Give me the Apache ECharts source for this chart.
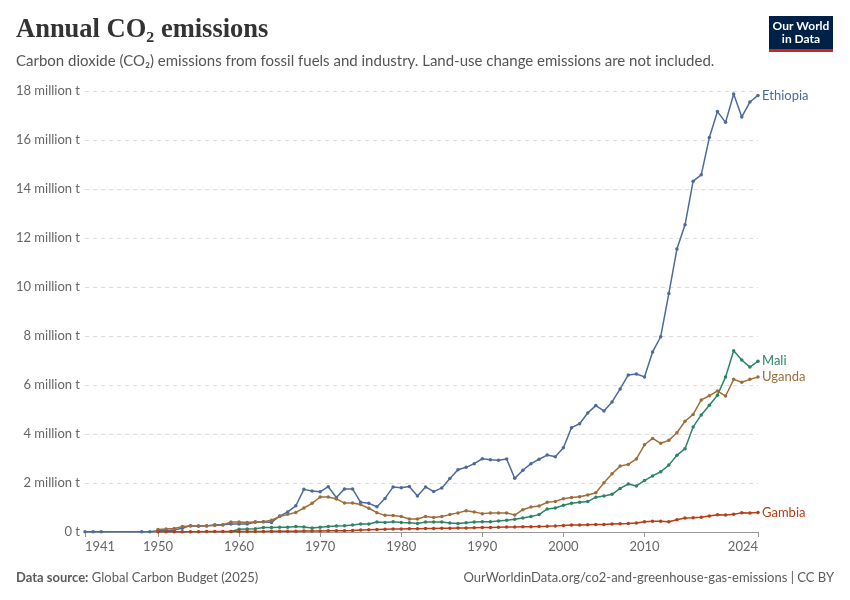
<!DOCTYPE html>
<html>
<head>
<meta charset="utf-8">
<style>
  html, body { margin: 0; padding: 0; background: #fff; }
  #chart { width: 850px; height: 600px; }
</style>
<script src="https://cdn.jsdelivr.net/npm/echarts@6/dist/echarts.min.js"></script>
</head>
<body>
<div id="chart"></div>
<script>
// Values in million tonnes, one per year starting at firstYear
var firstYear = 1950;
var lastYear = 2024;
var xTickYears = [1941, 1950, 1960, 1970, 1980, 1990, 2000, 2010, 2024];
var yTicks = [0, 2, 4, 6, 8, 10, 12, 14, 16, 18];

// Ethiopia also has a few early years before 1950
var ethiopiaEarlyYears = [1941, 1942, 1943, 1948, 1949];
var ethiopiaEarly = [0.01, 0.01, 0.01, 0.01, 0.01];

var ethiopia = [
  0.05, 0.05, 0.08, 0.15, 0.26, 0.23, 0.25, 0.30, 0.30, 0.33,
  0.33, 0.33, 0.40, 0.42, 0.39, 0.65, 0.82, 1.07, 1.74, 1.67,
  1.64, 1.85, 1.41, 1.76, 1.76, 1.21, 1.17, 1.03, 1.37, 1.84,
  1.81, 1.86, 1.47, 1.84, 1.65, 1.80, 2.18, 2.54, 2.64, 2.79,
  2.99, 2.95, 2.93, 2.98, 2.19, 2.52, 2.79, 2.97, 3.14, 3.07,
  3.44, 4.26, 4.42, 4.86, 5.16, 4.94, 5.31, 5.84, 6.41, 6.45,
  6.33, 7.35, 7.97, 9.73, 11.55, 12.54, 14.32, 14.58, 16.10, 17.16,
  16.72, 17.88, 16.94, 17.55, 17.82
];
var uganda = [
  0.10, 0.12, 0.14, 0.22, 0.24, 0.26, 0.26, 0.27, 0.29, 0.41,
  0.41, 0.39, 0.42, 0.42, 0.48, 0.63, 0.72, 0.80, 0.98, 1.17,
  1.43, 1.43, 1.35, 1.18, 1.18, 1.12, 0.97, 0.79, 0.68, 0.67,
  0.63, 0.53, 0.53, 0.63, 0.59, 0.63, 0.71, 0.78, 0.87, 0.82,
  0.75, 0.78, 0.78, 0.78, 0.69, 0.91, 1.02, 1.06, 1.21, 1.25,
  1.36, 1.41, 1.44, 1.51, 1.60, 2.01, 2.38, 2.69, 2.76, 2.98,
  3.56, 3.82, 3.62, 3.74, 4.05, 4.52, 4.80, 5.39, 5.56, 5.76,
  5.55, 6.23, 6.11, 6.23, 6.33
];
var mali = [
  null, null, null, null, null, null, null, null, null, 0.02,
  0.11, 0.12, 0.13, 0.18, 0.18, 0.19, 0.19, 0.22, 0.20, 0.16,
  0.19, 0.22, 0.24, 0.26, 0.29, 0.33, 0.33, 0.41, 0.39, 0.42,
  0.39, 0.38, 0.35, 0.41, 0.41, 0.41, 0.37, 0.35, 0.38, 0.41,
  0.42, 0.42, 0.45, 0.48, 0.52, 0.57, 0.63, 0.71, 0.94, 0.98,
  1.09, 1.17, 1.21, 1.24, 1.42, 1.47, 1.54, 1.78, 1.96, 1.88,
  2.10, 2.29, 2.46, 2.73, 3.13, 3.40, 4.29, 4.78, 5.17, 5.58,
  6.33, 7.40, 7.02, 6.73, 6.97
];
var gambia = [
  0.01, 0.01, 0.01, 0.01, 0.01, 0.01, 0.02, 0.02, 0.02, 0.02,
  0.02, 0.02, 0.02, 0.02, 0.03, 0.03, 0.03, 0.03, 0.04, 0.04,
  0.04, 0.05, 0.05, 0.05, 0.06, 0.08, 0.09, 0.10, 0.11, 0.12,
  0.12, 0.13, 0.13, 0.14, 0.14, 0.15, 0.15, 0.16, 0.16, 0.17,
  0.18, 0.18, 0.19, 0.20, 0.20, 0.21, 0.21, 0.22, 0.23, 0.25,
  0.27, 0.29, 0.29, 0.30, 0.31, 0.31, 0.33, 0.34, 0.35, 0.37,
  0.42, 0.44, 0.44, 0.42, 0.50, 0.57, 0.58, 0.60, 0.65, 0.70,
  0.69, 0.72, 0.79, 0.78, 0.80
];

var font = 'Lato, "Noto Sans", sans-serif';
var muted = '#666';

function pairs(values, early, earlyYears) {
  var out = [];
  if (early) {
    early.forEach(function(v, i) { out.push([earlyYears[i], v]); });
  }
  values.forEach(function(v, i) {
    if (v !== null) out.push([firstYear + i, v]);
  });
  return out;
}

function lineSeries(name, data, color) {
  return {
    name: name, type: 'line', data: data,
    symbol: 'circle', symbolSize: 3.5, showSymbol: true,
    lineStyle: { width: 1.5, color: color }, itemStyle: { color: color },
    emphasis: { disabled: true },
    endLabel: { show: true, formatter: '{a}', color: color, fontFamily: font, fontSize: 13, distance: 4 }
  };
}

var chart = echarts.init(document.getElementById('chart'), null, { renderer: 'canvas' });
chart.setOption({
  animation: false,
  grid: { left: 85, right: 92, top: 91, bottom: 68 },
  xAxis: {
    type: 'value', min: 1941, max: lastYear,
    axisLine: { show: true, onZero: false, lineStyle: { color: '#999' } },
    axisTick: { show: true, length: 5, customValues: xTickYears, lineStyle: { color: '#999' } },
    axisLabel: {
      customValues: xTickYears, color: muted, fontFamily: font, fontSize: 13, margin: 8,
      alignMinLabel: 'left', alignMaxLabel: 'right',
      formatter: function(v) { return String(v); }
    },
    splitLine: { show: false }
  },
  yAxis: {
    type: 'value', min: yTicks[0], max: yTicks[yTicks.length - 1], interval: 2,
    axisLine: { show: false }, axisTick: { show: false },
    axisLabel: {
      color: muted, fontFamily: font, fontSize: 13, margin: 5,
      formatter: function(v) { return v === 0 ? '0 t' : v + ' million t'; }
    },
    splitLine: { lineStyle: { color: '#dcdcdc', type: [4, 4] } }
  },
  series: [
    lineSeries('Ethiopia', pairs(ethiopia, ethiopiaEarly, ethiopiaEarlyYears), '#4c6a9c'),
    lineSeries('Mali', pairs(mali), '#2c8465'),
    lineSeries('Uganda', pairs(uganda), '#a06d39'),
    lineSeries('Gambia', pairs(gambia), '#b83c14')
  ],
  graphic: [
    { type: 'text', left: 16, top: 17, style: { text: 'Annual CO\u2082 emissions', fill: '#333', font: 'bold 26.5px "Liberation Serif", serif' } },
    { type: 'text', left: 16, top: 54, style: { text: 'Carbon dioxide (CO\u2082) emissions from fossil fuels and industry. Land-use change emissions are not included.', fill: '#555', font: '15px ' + font } },
    { type: 'rect', shape: { x: 769, y: 16, width: 64, height: 36 }, style: { fill: '#002147' } },
    { type: 'rect', shape: { x: 769, y: 49, width: 64, height: 3 }, style: { fill: '#ce261e' } },
    { type: 'text', x: 801, y: 20, style: { text: 'Our World\nin Data', fill: '#fff', align: 'center', lineHeight: 13, font: 'bold 12px ' + font } },
    { type: 'text', left: 16, top: 571, style: { text: '{b|Data source:} Global Carbon Budget (2025)', fill: '#5b5b5b', font: '13px ' + font,
      rich: { b: { fontWeight: 'bold', fontFamily: font, fontSize: 13, fill: '#5b5b5b' } } } },
    { type: 'text', right: 16, top: 571, style: { text: 'OurWorldinData.org/co2-and-greenhouse-gas-emissions | CC BY', fill: '#5b5b5b', font: '13px ' + font } }
  ]
});
</script>
</body>
</html>
